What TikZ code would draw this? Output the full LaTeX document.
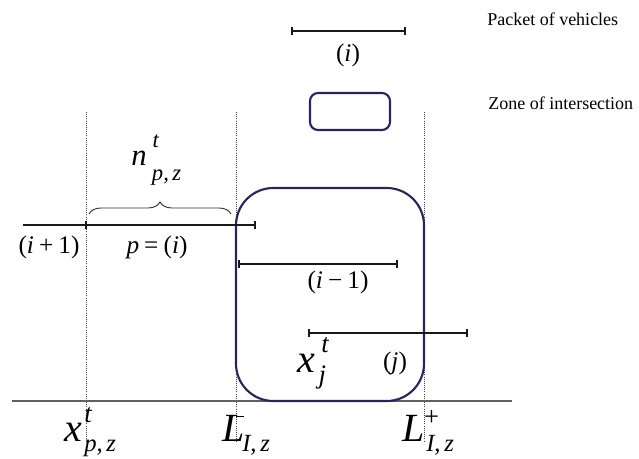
\documentclass[tikz,border=0pt]{standalone}
\usepackage{fontspec}
\setmainfont{Liberation Serif}
\usetikzlibrary{decorations.pathreplacing,calc}
\definecolor{zonecol}{HTML}{26265E}
\definecolor{axiscol}{HTML}{606060}
% fonts
\newcommand{\bigfont}{\fontsize{30}{32}\selectfont\itshape}
\newcommand{\midfont}{\fontsize{23}{25}\selectfont\itshape}
\newcommand{\scrfont}{\fontsize{20}{22}\selectfont\itshape}
\newcommand{\subfont}{\fontsize{18.5}{20}\selectfont\itshape}
\newcommand{\nscrfont}{\fontsize{17}{19}\selectfont\itshape}
\newcommand{\parfont}{\fontsize{19}{21}\selectfont}
% label with scripts at given offsets (pt): base, sup, supx, supraise, sub, subx, subdrop, width
\newcommand{\scripted}[8]{%
  \rlap{#1}%
  \rlap{\kern#3\raisebox{#4}{#2}}%
  \rlap{\kern#6\raisebox{-#7}{#5}}%
  \kern#8\relax}
\tikzset{
  seg/.style={draw=black!90, line width=1.1pt},
  tickbar/.style={draw=black!90, line width=1.5pt},
  guide/.style={draw=black!75, densely dotted, line width=0.6pt},
  zone/.style={draw=zonecol, line width=1.6pt},
  lab/.style={inner sep=0pt},
  legend/.style={font=\fontsize{13.5}{15}\selectfont, inner sep=0pt, anchor=west},
}
\begin{document}
\begin{tikzpicture}[x=0.75pt, y=-0.75pt]
\useasboundingbox (0,0) rectangle (639,459);
% guides
\draw[guide] (86,112) coordinate (g1t) -- (86,442) coordinate (g1b);
\draw[guide] (236,112) coordinate (g2t) -- (236,442) coordinate (g2b);
\draw[guide] (424,112) coordinate (g3t) -- (424,442) coordinate (g3b);
% axis
\coordinate (axL) at (12,401);
\coordinate (axR) at (512,401);
\draw[draw=axiscol, line width=1.3pt] (axL) -- (axR);
% zone
\draw[zone, rounded corners=28] (236,188) rectangle (424,401);
% legend
\coordinate (pa) at (292,31);
\coordinate (pb) at (405,31);
\draw[seg] (pa) -- (pb);
\draw[tickbar] ($(pa)+(0,-4)$) -- ($(pa)+(0,4)$);
\draw[tickbar] ($(pb)+(0,-4)$) -- ($(pb)+(0,4)$);
\node[lab, font=\parfont] (li) at (348,55) {(\textit{i})};
\draw[zone, rounded corners=6] (310,93) rectangle (390,130);
\node[legend] (lp) at (487,19) {Packet of vehicles};
\node[legend] (lz) at (488,103) {Zone of intersection};
% packet i+1 / i
\coordinate (a0) at (23,225);
\coordinate (a1) at (86,225);
\coordinate (a2) at (255,225);
\draw[seg] (a0) -- (a2);
\draw[tickbar] ($(a1)+(0,-4)$) -- ($(a1)+(0,4)$);
\draw[tickbar] ($(a2)+(0,-4)$) -- ($(a2)+(0,4)$);
\node[lab, font=\parfont] (lip1) at (49,247) {(\textit{i}\kern0.2em+\kern0.2em1)};
\node[lab, font=\parfont] (lpi) at (157,247) {\textit{p}\kern0.2em=\kern0.2em(\textit{i})};
\coordinate (b1) at (89,214);
\coordinate (b2) at (231,214);
\draw[draw=black!80, line width=0.7pt, decoration={brace, amplitude=9pt}, decorate] (b1) -- (b2);
\node[lab, anchor=base west] (ln) at (131,166)
  {\scripted{\midfont n}{\nscrfont t}{16pt}{13.5pt}{\nscrfont p,\kern0.15em z}{15.5pt}{11pt}{46pt}};
% packet i-1
\coordinate (c1) at (239,264);
\coordinate (c2) at (397,264);
\draw[seg] (c1) -- (c2);
\draw[tickbar] ($(c1)+(0,-4)$) -- ($(c1)+(0,4)$);
\draw[tickbar] ($(c2)+(0,-4)$) -- ($(c2)+(0,4)$);
\node[lab, font=\parfont] (lim1) at (338,282) {(\textit{i}\kern0.2em\char"2212\kern0.2em1)};
% packet j
\coordinate (d1) at (309,333);
\coordinate (d2) at (467,333);
\draw[seg] (d1) -- (d2);
\draw[tickbar] ($(d1)+(0,-4)$) -- ($(d1)+(0,4)$);
\draw[tickbar] ($(d2)+(0,-4)$) -- ($(d2)+(0,4)$);
\node[lab, font=\parfont] (lj) at (395,363) {(\textit{j})};
\node[lab, anchor=base west] (lxj) at (297,373)
  {\scripted{\bigfont x}{\scrfont t}{18pt}{15pt}{\scrfont j}{16pt}{8pt}{26pt}};
% bottom labels
\node[lab, anchor=base west] (lxp) at (64,441)
  {\scripted{\bigfont x}{\scrfont t}{15pt}{13.5pt}{\subfont p,\kern0.15em z}{15pt}{8pt}{40pt}};
\node[lab, anchor=base west] (lLm) at (222,441)
  {\scripted{\bigfont L}{\rule{6pt}{1pt}}{10pt}{18pt}{\subfont I,\kern0.15em z}{15pt}{8pt}{40pt}};
\node[lab, anchor=base west] (lLp) at (402,441)
  {\scripted{\bigfont L}{\scrfont +}{15pt}{12pt}{\subfont I,\kern0.15em z}{18pt}{8pt}{40pt}};
\end{tikzpicture}
\end{document}
